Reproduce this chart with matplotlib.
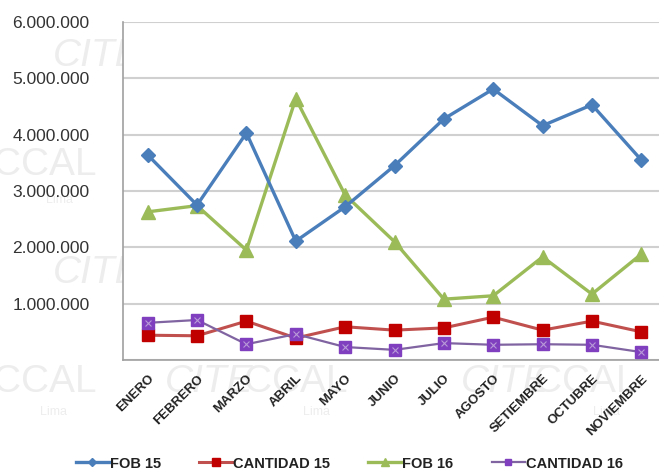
import matplotlib.pyplot as plt
from matplotlib.ticker import FuncFormatter

# monthly data
meses = ["ENERO", "FEBRERO", "MARZO", "ABRIL", "MAYO", "JUNIO", "JULIO",
         "AGOSTO", "SETIEMBRE", "OCTUBRE", "NOVIEMBRE"]
fob15 = [3640000, 2750000, 4030000, 2110000, 2720000, 3450000, 4280000,
         4810000, 4160000, 4530000, 3550000]
cant15 = [440000, 430000, 690000, 390000, 590000, 530000, 570000,
          760000, 530000, 690000, 500000]
fob16 = [2630000, 2740000, 1950000, 4640000, 2930000, 2100000, 1080000,
         1140000, 1830000, 1170000, 1880000]
cant16 = [660000, 710000, 280000, 460000, 230000, 180000, 300000,
          270000, 280000, 270000, 140000]

plt.rcParams['font.family'] = ['Liberation Sans', 'DejaVu Sans']

fig = plt.figure(figsize=(6.59, 4.72), dpi=100)

# faint watermark behind the chart
wm = dict(color="#ededed", zorder=-1, fontsize=28)
for x, y, s in [(0.08, 0.86, "CITE"), (-0.01, 0.63, "CCAL"), (0.08, 0.40, "CITE"),
                (-0.01, 0.17, "CCAL"), (0.25, 0.17, "CITE"), (0.37, 0.17, "CCAL"),
                (0.70, 0.17, "CITE"), (0.81, 0.17, "CCAL")]:
    fig.text(x, y, s, style="italic" if s == "CITE" else "normal", **wm)
for x, y in [(0.07, 0.57), (0.06, 0.12), (0.46, 0.12), (0.90, 0.12)]:
    fig.text(x, y, "Lima", color="#ededed", fontsize=9, zorder=-1)

ax = fig.add_axes([123 / 659, 112 / 472, 543 / 659, 338 / 472])
x = range(len(meses))

ax.plot(x, fob15, color="#4a7ebb", lw=2.4, marker="D", ms=7, label="FOB 15", zorder=4)
ax.plot(x, cant15, color="#c0504d", lw=2.2, marker="s", ms=9, mfc="#c00000",
        mec="#c00000", label="CANTIDAD 15", zorder=3)
ax.plot(x, fob16, color="#9bbb59", lw=2.4, marker="^", ms=10, label="FOB 16", zorder=3)
ax.plot(x, cant16, color="#8064a2", lw=1.6, marker="s", ms=8, mfc="#7f3fbf",
        mec="#7f3fbf", label="CANTIDAD 16", zorder=3)
ax.plot(x, cant16, ls="none", marker="x", ms=5, mew=0.8, color="#b99ad8", zorder=5)

ax.set_xlim(-0.5, len(meses) - 0.5)
ax.set_ylim(0, 6000000)
ax.set_yticks(range(0, 6000001, 1000000))
ax.yaxis.set_major_formatter(FuncFormatter(
    lambda v, p: "" if v == 0 else f"{int(v):,}".replace(",", ".")))
ax.grid(axis="y", color="#d0d0d0", lw=1.5)
ax.set_axisbelow(True)
ax.tick_params(axis="y", length=0, pad=24, labelsize=12.5, labelcolor="#333333")
ax.tick_params(axis="x", length=0, pad=9)
ax.set_xticks(list(x))
ax.set_xticklabels(meses, rotation=45, ha="right", rotation_mode="anchor",
                   fontsize=9.5, fontweight="bold", color="#222222")
for s in ["top", "right"]:
    ax.spines[s].set_visible(False)
for s in ["left", "bottom"]:
    ax.spines[s].set_color("#a0a0a0")
    ax.spines[s].set_linewidth(1.2)

leg = fig.legend(loc="center", bbox_to_anchor=(0.53, 0.018), ncol=4, frameon=False,
                 fontsize=10.5, handlelength=2.3, columnspacing=2.6, handletextpad=0.05,
                 markerscale=0.6)
for t in leg.get_texts():
    t.set_fontweight("bold")
    t.set_color("#222222")

fig.savefig("out.png", dpi=100)
